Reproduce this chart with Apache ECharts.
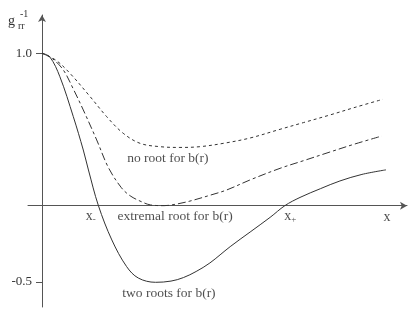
<!DOCTYPE html>
<html><head><meta charset="utf-8">
<script src="https://cdn.jsdelivr.net/npm/echarts@6/dist/echarts.min.js"></script>
<style>html,body{margin:0;padding:0;background:#fff}#c{width:415px;height:316px}</style>
</head><body><div id="c"></div>
<script>
// Curve samples [x, g_rr^-1]
const noRoot = [[0,1.0],[0.4,0.955],[0.81,0.869],[1.4,0.715],[1.88,0.584],[2.36,0.475],[2.85,0.409],[3.43,0.387],[4.01,0.382],[4.59,0.387],[5.3,0.41],[6.05,0.444],[6.92,0.501],[7.6,0.545],[8.37,0.595],[9.1,0.645],[9.91,0.698]];
const extremalRoot = [[0,1.0],[0.3,0.965],[0.62,0.89],[0.9,0.77],[1.2,0.628],[1.59,0.431],[1.93,0.25],[2.3,0.12],[2.56,0.065],[2.9,0.025],[3.15,0.005],[3.55,0.0],[3.9,0.01],[4.3,0.03],[4.88,0.068],[5.37,0.103],[6.05,0.169],[6.92,0.245],[7.6,0.295],[8.37,0.352],[9.1,0.405],[9.88,0.457]];
const twoRoots = [[0,1.0],[0.23,0.975],[0.52,0.846],[0.91,0.584],[1.2,0.365],[1.35,0.234],[1.64,0.0],[2.03,-0.225],[2.46,-0.40],[2.8,-0.475],[3.3,-0.503],[3.75,-0.495],[4.11,-0.472],[4.48,-0.432],[4.88,-0.376],[5.47,-0.269],[6.05,-0.173],[6.63,-0.077],[7.06,0.0],[7.5,0.054],[8.1,0.112],[8.66,0.162],[9.3,0.205],[10.0,0.235]];
const yTicks = [1.0, -0.5];
const annotations = [
  {value:[3.66, 0.311], text:'no root for b(r)'},
  {value:[3.87, -0.074], text:'extremal root for b(r)'},
  {value:[3.69, -0.573], text:'two roots for b(r)'},
  {value:[1.42, -0.072], text:'{x|x}{s|-}'},
  {value:[7.22, -0.072], text:'{x|x}{s|+}'},
  {value:[10.03, -0.076], text:'{x|x}'}
];

const FONT = 'Liberation Serif';
const LINE = '#333';
const chart = echarts.init(document.getElementById('c'));
chart.setOption({
  animation:false,
  backgroundColor:'#fff',
  grid:{left:28, top:15, width:379, height:292, containLabel:false, outerBoundsMode:'none'},
  xAxis:{type:'value', min:-0.407, max:10.61,
    axisLine:{onZero:true, lineStyle:{color:'#555', width:1}, symbol:['none','arrow'], symbolSize:[6,7]},
    axisTick:{show:false}, axisLabel:{show:false}, splitLine:{show:false}},
  yAxis:{type:'value', min:-0.665, max:1.251,
    axisLine:{show:true, onZero:true, lineStyle:{color:'#555', width:1}, symbol:['none','arrow'], symbolSize:[6,7]},
    axisTick:{show:true, customValues:yTicks, length:6, lineStyle:{color:'#555'}},
    axisLabel:{show:true, customValues:yTicks, formatter:v=>v.toFixed(1), align:'right', margin:-4, fontFamily:FONT, fontSize:13, color:'#333'},
    splitLine:{show:false}},
  graphic:[
    {type:'text', left:8, top:14, style:{text:'g', font:'14px '+FONT, fill:'#333'}},
    {type:'text', left:20, top:9, style:{text:'-1', font:'10px '+FONT, fill:'#333'}},
    {type:'text', left:18, top:21, style:{text:'rr', font:'10px '+FONT, fill:'#333'}}
  ],
  series:[
    {type:'line', data:noRoot, smooth:0.35, symbol:'none', lineStyle:{color:LINE, width:1, type:[3,3]}},
    {type:'line', data:extremalRoot, smooth:0.35, symbol:'none', lineStyle:{color:LINE, width:1, type:[8,3,3,3]}},
    {type:'line', data:twoRoots, smooth:0.35, symbol:'none', lineStyle:{color:LINE, width:1}},
    {type:'scatter', data:annotations, symbolSize:0, silent:true,
      label:{show:true, position:'inside', formatter:p=>p.data.text, fontFamily:FONT, fontSize:13.5, color:'#222',
        rich:{x:{fontFamily:FONT, fontSize:14, color:'#222'}, s:{fontFamily:FONT, fontSize:9, color:'#222', padding:[6,0,0,0]}}}}
  ]
});
</script></body></html>
